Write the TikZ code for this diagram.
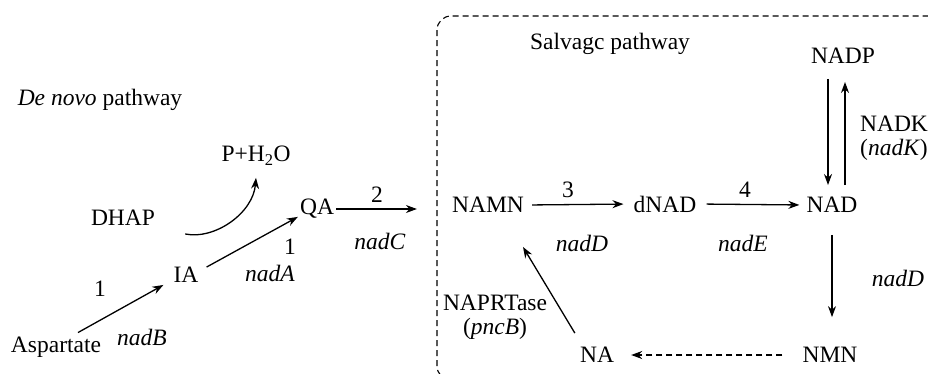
\documentclass[tikz,border=0pt]{standalone}
\usepackage{fontspec}
\setmainfont{Liberation Serif}
\usetikzlibrary{arrows.meta}
\tikzset{
  x=1pt,y=-1pt,
  lbl/.style={font=\fontsize{23.5}{24}\selectfont, inner sep=2pt, align=center},
  arr/.style={line width=1.3pt, -{Stealth[length=11pt,width=8pt]}},
  dasharr/.style={arr, dash pattern=on 6pt off 4pt},
  box/.style={line width=1.1pt, dash pattern=on 6pt off 4pt, rounded corners=14pt}
}
\begin{document}
\begin{tikzpicture}
\useasboundingbox (0,0) rectangle (928,373);
\clip (0,0) rectangle (928,373);
\fill[white] (0,0) rectangle (928,373);
% salvage box
\draw[box] (437,16) rectangle (950,380);
% de novo nodes
\node[lbl] (denovo) at (100,100) {\textit{De novo} pathway};
\node[lbl] (ph) at (256,156) {P+H\textsubscript{2}O};
\node[lbl] (dhap) at (123,218) {DHAP};
\node[lbl] (qa) at (317,209) {QA};
\node[lbl] (ia) at (186,275) {IA};
\node[lbl] (asp) at (56,347) {Aspartate};
\node[lbl] (l1a) at (100,289) {1};
\node[lbl] (nadB) at (142,337) {\textit{nadB}};
\node[lbl] (l1b) at (290,247) {1};
\node[lbl] (nadA) at (270,273) {\textit{nadA}};
\node[lbl] (l2) at (377,195) {2};
\node[lbl] (nadC) at (380,241) {\textit{nadC}};
% salvage nodes
\node[lbl] (salv) at (610,44) {Salvagc pathway};
\node[lbl] (nadp) at (843,56) {NADP};
\node[lbl] (nadk) at (894,138) {NADK\\(\textit{nadK})};
\node[lbl] (namn) at (488,205) {NAMN};
\node[lbl] (dnad) at (665,204) {dNAD};
\node[lbl] (nad) at (832,205) {NAD};
\node[lbl] (l3) at (568,190) {3};
\node[lbl] (l4) at (745,190) {4};
\node[lbl] (nadD1) at (582,243) {\textit{nadD}};
\node[lbl] (nadE) at (743,243) {\textit{nadE}};
\node[lbl] (nadD2) at (898,278) {\textit{nadD}};
\node[lbl] (naprt) at (495,317) {NAPRTase\\(\textit{pncB})};
\node[lbl] (na) at (597,355) {NA};
\node[lbl] (nmn) at (830,355) {NMN};
% connectors
\draw[arr] ([xshift=22pt,yshift=2pt]asp.north) -- ([xshift=-8pt]ia.south west);
\draw[arr] ([xshift=6pt,yshift=-2pt]ia.north east) -- ([yshift=4pt]qa.south west);
\draw[arr] ([xshift=28pt,yshift=-6pt]dhap.south east) .. controls +(30,6) and +(-3,35) .. ([yshift=-10pt]ph.south);
\draw[arr, shorten >=33pt] (qa.east) -- (namn.west |- qa.east);
\draw[arr, shorten <=6pt, shorten >=8pt] (namn.east) -- (dnad.west);
\draw[arr, shorten <=8pt, shorten >=5pt] (dnad.east) -- (nad.west);
\draw[arr, shorten <=13pt, shorten >=10pt] ([xshift=-15pt]nadp.south) -- ([xshift=-15pt]nadp.south |- nad.north);
\draw[arr, shorten <=10pt, shorten >=16pt] ([xshift=2pt]nadp.south |- nad.north) -- ([xshift=2pt]nadp.south);
\draw[arr, shorten <=20pt, shorten >=28pt] (nad.south) -- (nad.south |- nmn.north);
\draw[dasharr, shorten <=18pt, shorten >=15pt] (nmn.west) -- (na.east);
\draw[arr] ([xshift=-3pt,yshift=12pt]na.north west) -- ([xshift=35pt,yshift=-32pt]namn.south);
\end{tikzpicture}
\end{document}
